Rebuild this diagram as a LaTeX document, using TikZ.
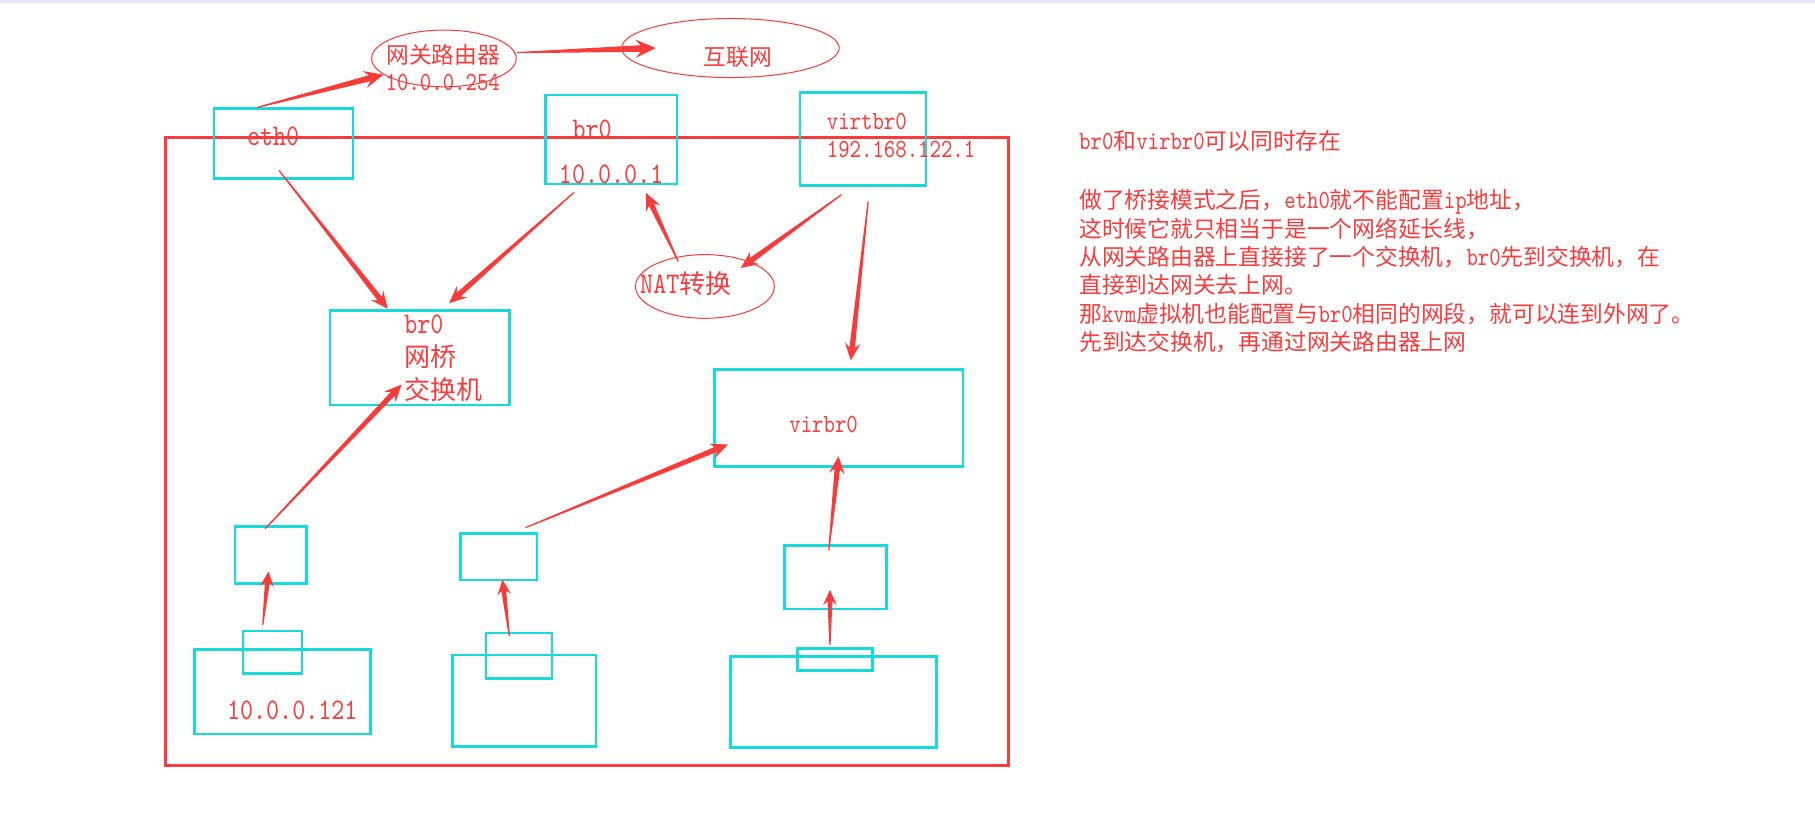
\documentclass[tikz,border=0pt]{standalone}
\usepackage{fontspec}
\setmainfont[Scale=1.15,FakeStretch=0.83]{lmmono10-regular.otf}
\newfontfamily\zhfont{Noto Sans CJK SC}
\newcommand\zh[1]{{\zhfont #1}}
\usetikzlibrary{calc,shapes}
\definecolor{linkred}{RGB}{248,60,60}
\definecolor{boxcyan}{RGB}{24,218,218}
\definecolor{barlav}{RGB}{232,232,250}

\begin{document}
\begin{tikzpicture}[x=1cm,y=1cm,
  taper/.style={draw=none,fill=linkred,to path={
      (\tikztostart) coordinate (tail) (\tikztotarget) coordinate (tip)
      ($(tail)!0.3pt!90:(tip)$)
             -- ($(tip)!0.75*#1!(tail)!0.16*#1!90:(tip)$)
             -- ($(tip)!#1!(tail)!0.45*#1!90:(tip)$)
             -- (tip)
             -- ($(tip)!#1!(tail)!0.45*#1!-90:(tip)$)
             -- ($(tip)!0.75*#1!(tail)!0.16*#1!-90:(tip)$)
             -- ($(tail)!0.3pt!-90:(tip)$)
             -- cycle}},
  taper/.default=8.5pt]
  \tikzstyle{box}=[draw=boxcyan,line width=1.3pt,inner sep=0pt]
  \tikzstyle{oval}=[ellipse,draw=linkred,line width=0.5pt,inner sep=0pt]
  \tikzstyle{txt}=[text=linkred,inner sep=0pt,font=\fontsize{11.2}{13.9}\selectfont]
  \tikzstyle{bigtxt}=[txt,font=\fontsize{12.8}{16.3}\selectfont]

  \useasboundingbox (0,0) rectangle (31.36,14.24);
  \fill[white] (0,0) rectangle (31.36,14.24);
  \fill[barlav] (0,14.19) rectangle (31.36,14.24);

  % host
  \draw[linkred,line width=1.5pt] (2.86,1.02) rectangle (17.42,11.86);

  \node[box,minimum width=2.40cm,minimum height=1.20cm] at ( 4.90,11.76) (eth0) {};
  \node[box,minimum width=2.28cm,minimum height=1.54cm] at (10.56,11.83) (br0ip) {};
  \node[box,minimum width=2.18cm,minimum height=1.60cm] at (14.91,11.84) (virtip) {};
  \node[box,minimum width=3.10cm,minimum height=1.64cm] at ( 7.25, 8.06) (bridge) {};
  \node[box,minimum width=4.30cm,minimum height=1.68cm] at (14.49, 7.02) (virbr0) {};
  \node[box,minimum width=1.24cm,minimum height=0.98cm] at ( 4.68, 4.65) (nicA) {};
  \node[box,minimum width=1.32cm,minimum height=0.80cm] at ( 8.62, 4.62) (nicB) {};
  \node[box,minimum width=1.76cm,minimum height=1.10cm] at (14.44, 4.27) (nicC) {};
  \node[box,minimum width=3.04cm,minimum height=1.46cm] at ( 4.88, 2.29) (vmA) {};
  \node[box,minimum width=1.02cm,minimum height=0.74cm] at ( 4.71, 2.97) (portA) {};
  \node[box,minimum width=2.48cm,minimum height=1.58cm] at ( 9.06, 2.13) (vmB) {};
  \node[box,minimum width=1.14cm,minimum height=0.78cm] at ( 8.97, 2.91) (portB) {};
  \node[box,minimum width=3.56cm,minimum height=1.58cm] at (14.40, 2.11) (vmC) {};
  \node[box,minimum width=1.30cm,minimum height=0.38cm] at (14.43, 2.85) (portC) {};

  \node[oval,minimum width=2.50cm,minimum height=0.98cm] at ( 7.67,13.23) (gw) {};
  \node[oval,minimum width=3.76cm,minimum height=1.02cm] at (12.62,13.41) (inet) {};
  \node[oval,minimum width=2.40cm,minimum height=1.10cm] at (12.18, 9.29) (nat) {};

  % labels
  \node[bigtxt] at ( 4.72,11.88) (eth0-t) {eth0};
  \node[txt] at ( 7.66,13.29) (gw-t) {\zh{网关路由器}};
  \node[txt] at ( 7.65,12.82) (gw-ip) {10.0.0.254};
  \node[txt] at (12.75,13.26) (inet-t) {\zh{互联网}};
  \node[bigtxt] at (10.23,12.01) (br0ip-t) {br0};
  \node[bigtxt] at (10.56,11.22) (br0ip-ip) {10.0.0.1};
  \node[txt,anchor=west] at (14.28,12.14) (virtip-t) {virtbr0};
  \node[txt,anchor=west] at (14.28,11.65) (virtip-ip) {192.168.122.1};
  \node[bigtxt] at (11.85, 9.34) (nat-t) {NAT\zh{转换}};
  \node[bigtxt,anchor=west,align=left] at ( 6.98, 8.05) (bridge-t) {br0\\\zh{网桥}\\\zh{交换机}};
  \node[txt] at (14.23, 6.90) (virbr0-t) {virbr0};
  \node[bigtxt] at ( 5.05, 1.97) (vmA-ip) {10.0.0.121};

  \node[txt,anchor=north west,align=left] at (18.64,12.00) (notes) {%
    br0\zh{和}virbr0\zh{可以同时存在}\\[15.5pt]
    \zh{做了桥接模式之后，}eth0\zh{就不能配置}ip\zh{地址，}\\
    \zh{这时候它就只相当于是一个网络延长线，}\\
    \zh{从网关路由器上直接接了一个交换机，}br0\zh{先到交换机，在}\\
    \zh{直接到达网关去上网。}\\
    \zh{那}kvm\zh{虚拟机也能配置与}br0\zh{相同的网段，就可以连到外网了。}\\
    \zh{先到达交换机，再通过网关路由器上网}};

  \path ([xshift=-0.46cm]eth0.north) edge[taper=9.5pt] (gw.195)
        ([yshift=0.1cm]gw.east) edge[taper=10pt] ([xshift=0.6cm]inet.west)
        ([xshift=-0.08cm,yshift=0.16cm]eth0.south) edge[taper] ([xshift=-0.55cm]bridge.north)
        ([xshift=-0.64cm,yshift=-0.12cm]br0ip.south) edge[taper] ([xshift=0.51cm,yshift=0.1cm]bridge.north)
        ([xshift=-0.46cm,yshift=0.43cm]nat.center) edge[taper] ([xshift=0.6cm,yshift=-0.13cm]br0ip.south)
        ([xshift=-0.37cm,yshift=-0.14cm]virtip.south) edge[taper] ([xshift=0.62cm,yshift=0.32cm]nat.center)
        ([xshift=0.09cm,yshift=-0.26cm]virtip.south) edge[taper] ([xshift=0.21cm,yshift=0.13cm]virbr0.north)
        ([xshift=-0.1cm,yshift=-0.06cm]nicA.north) edge[taper] ([xshift=-0.31cm,yshift=0.38cm]bridge.south)
        ([xshift=0.46cm,yshift=0.08cm]nicB.north) edge[taper] ([xshift=0.26cm,yshift=-0.46cm]virbr0.west)
        ([xshift=-0.12cm,yshift=-0.11cm]nicC.north) edge[taper] ([yshift=0.2cm]virbr0.south)
        ([xshift=-0.17cm,yshift=0.08cm]portA.north) edge[taper=7.5pt] ([xshift=-0.04cm,yshift=0.23cm]nicA.south)
        ([xshift=-0.17cm,yshift=-0.07cm]portB.north) edge[taper=7.5pt] ([xshift=0.06cm,yshift=0.03cm]nicB.south)
        ([xshift=-0.09cm,yshift=0.03cm]portC.north) edge[taper=7.5pt] ([xshift=-0.1cm,yshift=0.35cm]nicC.south);
\end{tikzpicture}
\end{document}
